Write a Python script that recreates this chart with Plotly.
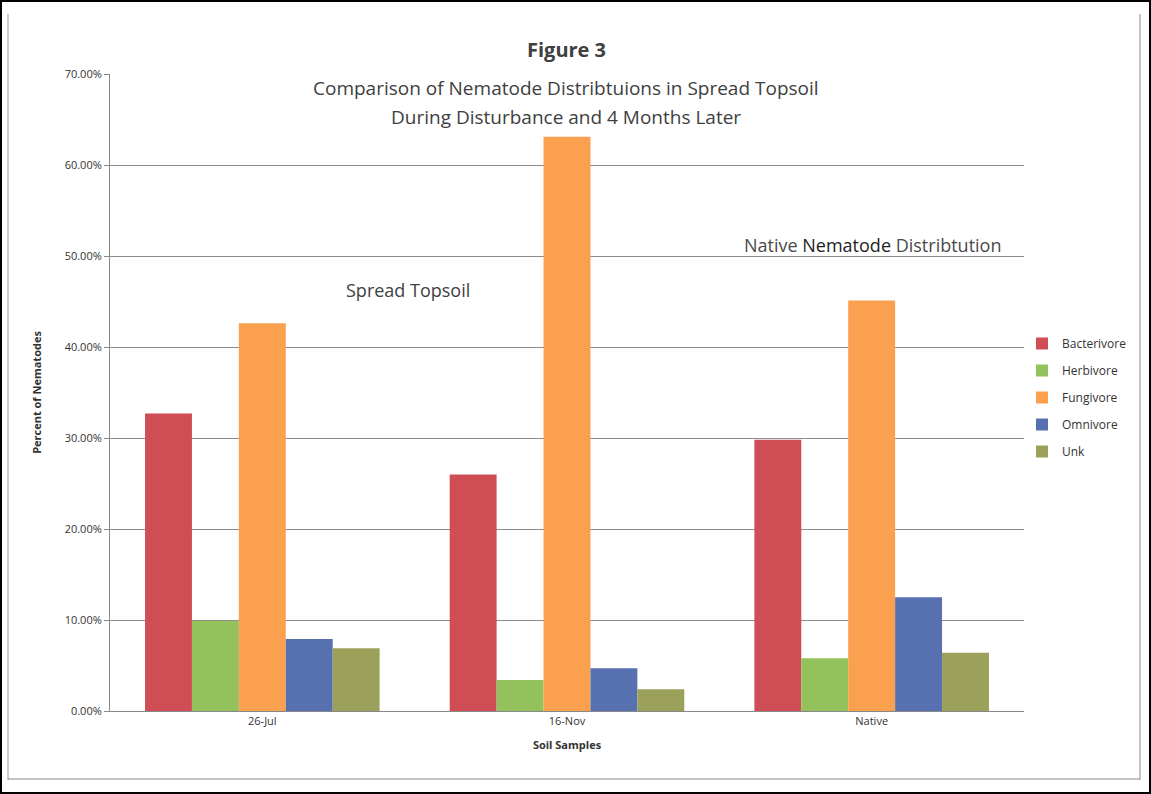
import plotly.graph_objects as go

# Sample groups and nematode feeding-group shares (fractions)
samples = ["26-Jul", "16-Nov", "Native"]
groups = ["Bacterivore", "Herbivore", "Fungivore", "Omnivore", "Unk"]
bacterivore = [0.327, 0.260, 0.298]
herbivore = [0.099, 0.034, 0.058]
fungivore = [0.426, 0.631, 0.451]
omnivore = [0.079, 0.047, 0.125]
unk = [0.069, 0.024, 0.064]
colors = ["#CF4E56", "#93C15B", "#FBA04F", "#5770B0", "#9BA05A"]
y_ticks = [0, 0.1, 0.2, 0.3, 0.4, 0.5, 0.6, 0.7]

series = [bacterivore, herbivore, fungivore, omnivore, unk]

W, H = 1151, 794
ML, MR, MT, MB = 110, 127, 74, 83
PW, PH = W - ML - MR, H - MT - MB


def px(x):
    return (x - ML) / PW


def py(y):
    return (H - MB - y) / PH


fig = go.Figure()
for i, (name, vals) in enumerate(zip(groups, series)):
    fig.add_trace(go.Bar(
        name=name, x=samples, y=vals,
        marker=dict(color=colors[i], line=dict(width=0)),
        legendgroup=name,
    ))

txt = "#404040"
annotations = [
    dict(text="<b>Figure 3</b>", x=px(566), y=py(50), font=dict(size=20, color=txt)),
    dict(text="Comparison of Nematode Distribtuions in Spread Topsoil",
         x=px(566), y=py(88), font=dict(size=19, color=txt)),
    dict(text="During Disturbance and 4 Months Later",
         x=px(566), y=py(117), font=dict(size=19, color=txt)),
    dict(text="Spread Topsoil", x=px(408), y=py(290), font=dict(size=18, color=txt)),
    dict(text="Native <span style='color:#222'>Nematode</span> Distribtution",
         x=px(872), y=py(245), font=dict(size=18, color="#4a4a4a")),
]
for a in annotations:
    a.update(xref="paper", yref="paper", showarrow=False,
             xanchor="center", yanchor="middle")

shapes = [
    # outer border of the page
    dict(type="rect", xref="paper", yref="paper",
         x0=px(1), x1=px(W - 1), y0=py(H - 1), y1=py(1),
         line=dict(color="#000000", width=2)),
    # chart-area frame lines
    dict(type="line", xref="paper", yref="paper",
         x0=px(8), x1=px(8), y0=py(780), y1=py(14),
         line=dict(color="#9a9a9a", width=1)),
    dict(type="line", xref="paper", yref="paper",
         x0=px(1140), x1=px(1140), y0=py(780), y1=py(14),
         line=dict(color="#8a8a8a", width=1)),
    dict(type="line", xref="paper", yref="paper",
         x0=px(8), x1=px(1140), y0=py(779), y1=py(779),
         line=dict(color="#8a8a8a", width=1)),
]

fig.update_layout(
    width=W, height=H,
    margin=dict(l=ML, r=MR, t=MT, b=MB, autoexpand=False),
    paper_bgcolor="white", plot_bgcolor="white",
    barmode="group", bargap=0.23, bargroupgap=0,
    font=dict(family="Open Sans, Liberation Sans, sans-serif", color=txt),
    annotations=annotations,
    shapes=shapes,
    showlegend=True,
    legend=dict(
        x=px(1022), y=py(329), xanchor="left", yanchor="top",
        font=dict(size=12, color="#333"),
        traceorder="grouped", tracegroupgap=8,
        itemwidth=30, bgcolor="rgba(0,0,0,0)",
    ),
    xaxis=dict(
        showline=True, linecolor="#888", linewidth=1,
        tickfont=dict(size=11, color="#333"),
        title=dict(text="<b>Soil Samples</b>", font=dict(size=11, color="#333"), standoff=14),
        ticks="", showgrid=False,
    ),
    yaxis=dict(
        range=[0, 0.7], tickvals=y_ticks, tickformat=".2%",
        showgrid=True, gridcolor="#8c8c8c", gridwidth=1,
        showline=True, linecolor="#888", linewidth=1,
        ticks="outside", ticklen=5, tickcolor="#888",
        tickfont=dict(size=11, color="#333"),
        title=dict(text="<b>Percent of Nematodes</b>", font=dict(size=11, color="#333"), standoff=20),
        zeroline=False,
    ),
)

fig.write_html("out.html")
